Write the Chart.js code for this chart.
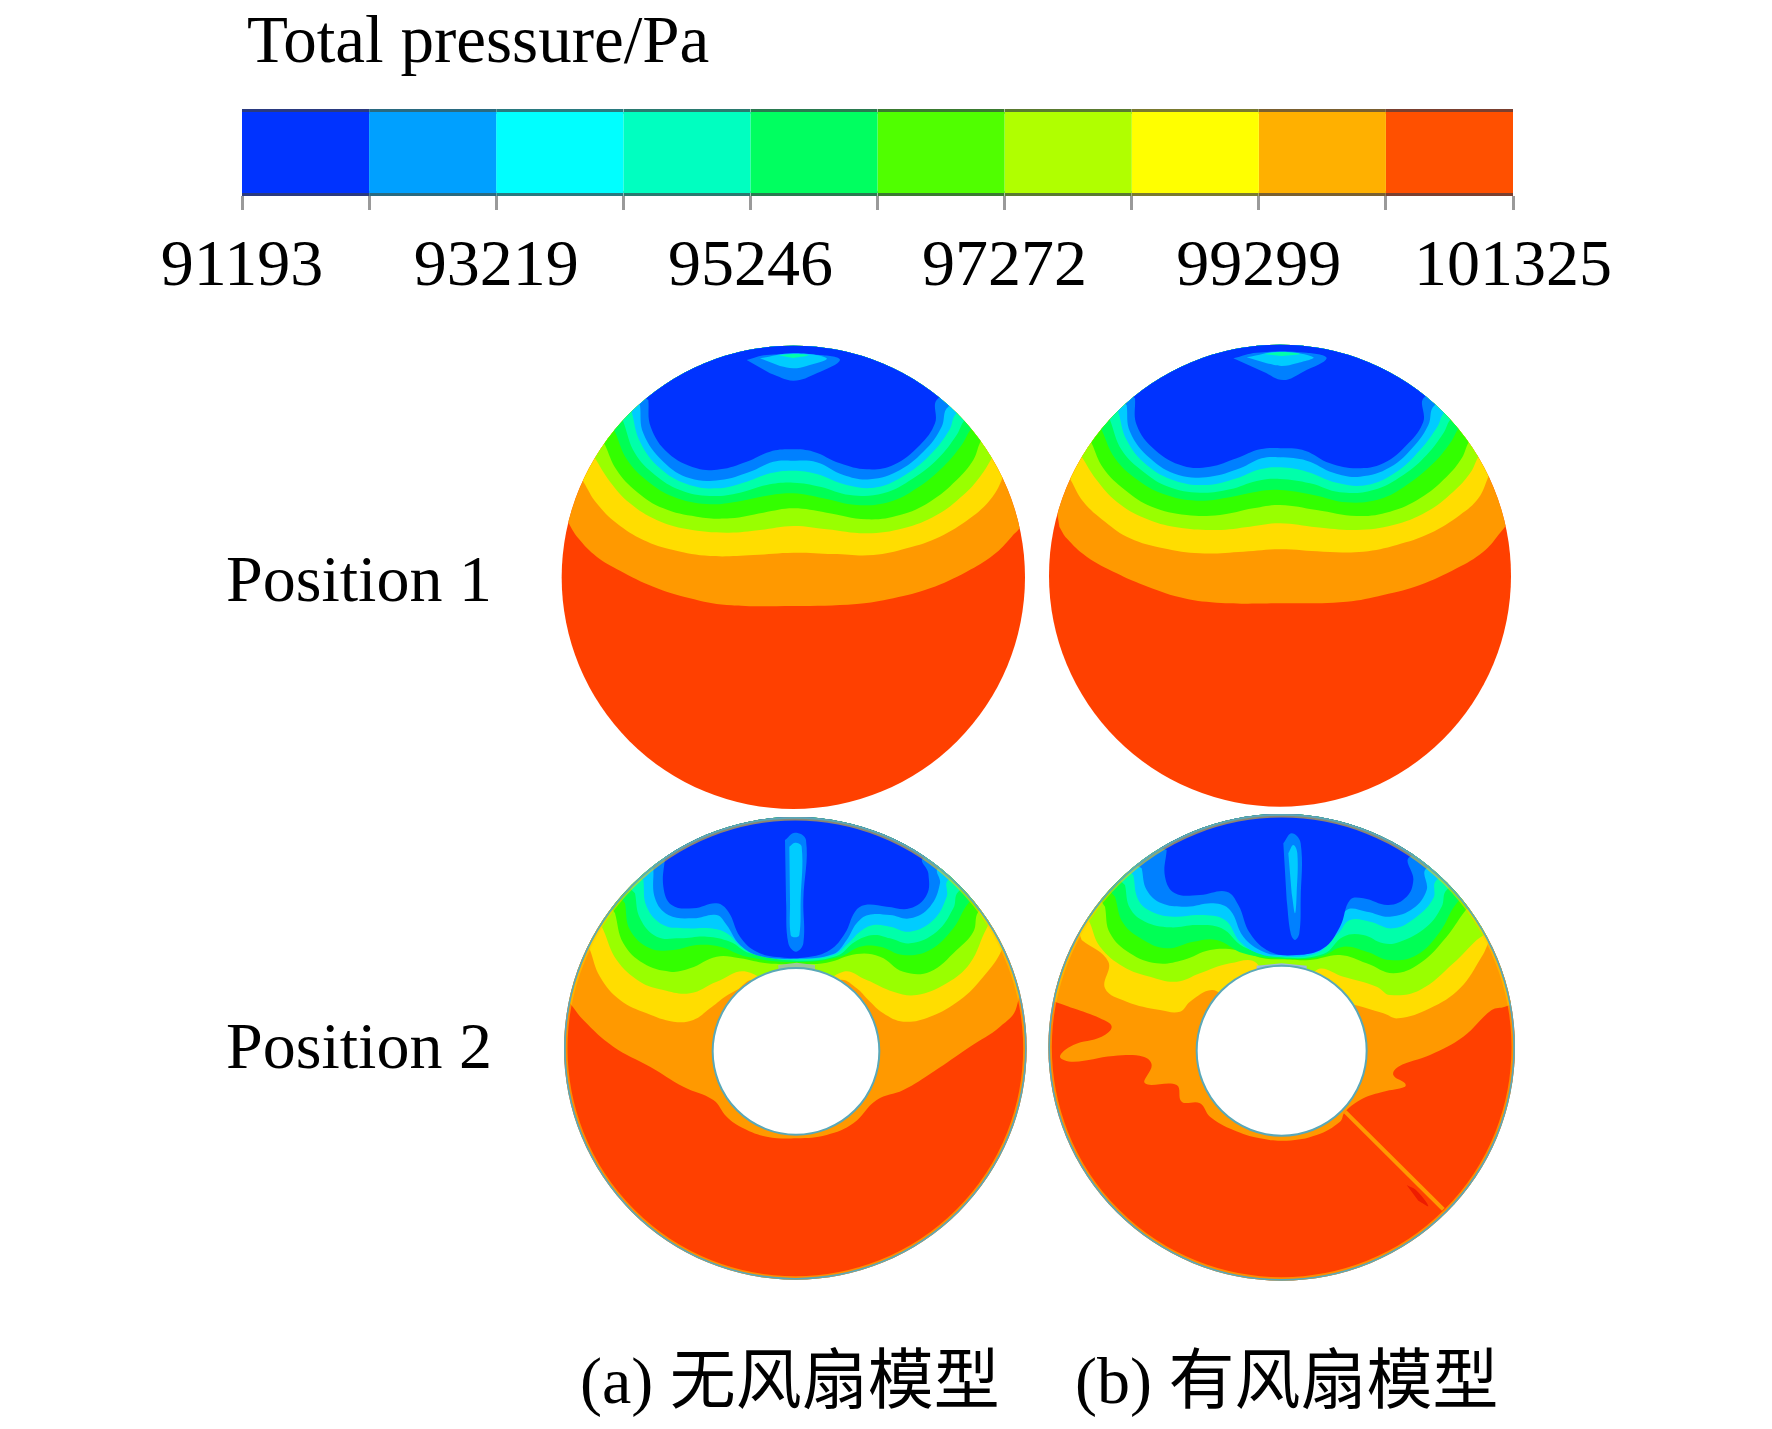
<!DOCTYPE html>
<html>
<head>
<meta charset="utf-8">
<title>Total pressure</title>
<script src="https://cdn.jsdelivr.net/npm/chart.js@4/dist/chart.umd.min.js"></script>
<style>
  html, body { margin: 0; padding: 0; background: #fff; }
  body { position: relative; width: 1772px; height: 1429px; overflow: hidden; }
  .txt { position: absolute; font-family: "Liberation Serif", "Noto Sans CJK SC", serif; font-size: 66px; line-height: 66px; color: #000; white-space: pre; }
  canvas { position: absolute; }
</style>
</head>
<body>
<div class="txt" style="left:247px;top:6px;font-size:67px">Total pressure/Pa</div>
<div class="txt" style="left:226px;top:546px">Position 1</div>
<div class="txt" style="left:226px;top:1013px">Position 2</div>
<div class="txt" style="left:580px;top:1348px">(a) 无风扇模型</div>
<div class="txt" style="left:1075px;top:1348px">(b) 有风扇模型</div>

<canvas id="cBar" width="1672" height="210" style="left:100px;top:90px"></canvas>
<canvas id="p1a" width="520" height="500" style="left:540px;top:330px"></canvas>
<canvas id="p1b" width="520" height="500" style="left:1030px;top:330px"></canvas>
<canvas id="p2a" width="520" height="500" style="left:540px;top:800px"></canvas>
<canvas id="p2b" width="520" height="500" style="left:1030px;top:800px"></canvas>

<script>
// colour bar
const levels = [91193, 92206, 93219, 94233, 95246, 96259, 97272, 98286, 99299, 100312, 101325];
const tickLabels = [91193, 93219, 95246, 97272, 99299, 101325];
const barColors = ['#0033ff', '#00a0ff', '#00ffff', '#00ffc0', '#00ff60', '#50ff00', '#b0ff00', '#ffff00', '#ffb000', '#ff5000'];
const barEdges = ['#2a3a80', '#2a6a80', '#2a7a80', '#2a7a70', '#2a7a50', '#3a7a30', '#5a7a30', '#7a7a30', '#7a6030', '#7a4030'];

// contour lines, lowest band edge first: red/orange ... lightblue/blue.
// Units are the duct section plot units, 3 per reference pixel, y downwards.
const bandColors = ['#ff9900', '#ffdd00', '#99ff00', '#33ff00', '#00ff55', '#00ffaa', '#00ccff', '#0080ff', '#0033ff'];
const baseColor = '#ff4000';

const p1aContours = [
  [[80,570],[115,625],[170,680],[240,722],[340,770],[450,805],[560,825],[760,828],[950,822],[1060,805],[1170,775],[1280,725],[1360,675],[1415,620],[1445,580]],
  [[130,455],[170,520],[230,580],[310,630],[400,660],[510,678],[640,675],[760,668],[880,672],[1000,675],[1100,655],[1200,620],[1290,565],[1350,510],[1385,450]],
  [[165,385],[210,455],[270,520],[350,570],[440,597],[560,608],[660,600],[760,588],[860,598],[980,610],[1090,595],[1190,555],[1270,495],[1320,440],[1355,385]],
  [[195,345],[230,420],[290,485],[370,535],[470,560],[570,565],[670,548],[760,535],[860,548],[980,568],[1080,555],[1170,515],[1250,450],[1300,390],[1325,330]],
  [[225,305],[262,390],[325,455],[400,500],[500,522],[590,515],[680,497],[760,490],[850,505],[950,525],[1050,515],[1130,475],[1210,410],[1265,345],[1295,295]],
  [[250,275],[285,370],[345,435],[420,480],[510,498],[600,488],[680,465],[760,458],[840,470],[930,495],[1030,490],[1120,445],[1195,385],[1250,315],[1275,270]],
  [[275,245],[300,335],[360,415],[440,462],[530,475],[620,455],[690,430],[760,422],[830,432],[920,465],[1010,472],[1100,432],[1175,370],[1228,300],[1250,250]],
  [[300,225],[310,310],[370,395],[450,445],[540,450],[630,425],[700,395],[760,392],[830,397],[910,435],[990,448],[1080,420],[1160,355],[1205,290],[1225,230]],
  [[325,210],[332,290],[385,370],[470,415],[540,418],[620,395],[690,365],[750,358],[820,365],[900,400],[980,418],[1060,405],[1140,345],[1185,280],[1195,205]]
];
const p1aCap = [
  [[620,90],[680,75],[840,75],[900,90],[830,130],[760,152],[690,130]],
  [[660,85],[760,70],[860,85],[800,108],[760,115],[720,108]],
  [[715,76],[760,72],[805,76],[760,84]]
];

const p1bContours = [
  [[88,590],[110,625],[170,680],[260,730],[340,765],[450,802],[560,818],[750,820],[950,815],[1060,795],[1170,765],[1280,715],[1360,665],[1405,615],[1440,560]],
  [[122,450],[160,515],[225,575],[300,625],[400,655],[510,670],[640,665],[750,658],[880,665],[1000,665],[1100,645],[1200,610],[1290,555],[1345,505],[1375,440]],
  [[155,380],[200,450],[260,515],[345,565],[440,592],[560,600],[660,590],[750,580],[860,592],[980,600],[1090,585],[1190,545],[1270,485],[1320,430],[1345,380]],
  [[185,340],[220,415],[285,480],[365,530],[470,555],[570,555],[670,535],[750,525],[860,540],[980,558],[1080,545],[1170,505],[1250,440],[1295,385],[1320,330]],
  [[215,300],[255,385],[320,448],[400,492],[500,512],[590,503],[680,485],[750,480],[850,495],[950,517],[1050,507],[1130,465],[1210,400],[1260,340],[1290,290]],
  [[240,270],[275,360],[340,425],[415,470],[510,488],[600,478],[680,453],[750,447],[840,460],[930,487],[1030,480],[1120,435],[1190,375],[1240,310],[1265,265]],
  [[265,245],[290,330],[350,405],[435,452],[530,465],[620,445],[690,418],[750,412],[830,425],[920,458],[1010,465],[1100,425],[1170,360],[1222,290],[1245,245]],
  [[290,225],[300,305],[360,385],[445,435],[540,440],[630,415],[695,385],[750,382],[830,392],[910,428],[990,440],[1080,412],[1155,345],[1195,285],[1215,225]],
  [[315,205],[320,285],[375,360],[460,408],[540,410],[620,385],[690,358],[760,355],[825,362],[900,400],[980,415],[1060,400],[1135,340],[1180,275],[1185,200]]
];
const p1bCap = [
  [[610,85],[680,68],[830,68],[890,85],[820,125],[760,150],[700,125]],
  [[650,82],[750,65],[850,82],[800,100],[755,108],[710,100]],
  [[700,72],[755,66],[810,72],[755,78]]
];

const p2aContours = [
  [[90,610],[130,660],[220,740],[330,800],[430,860],[520,900],[560,950],[610,985],[680,1010],[770,1015],[860,1005],[940,970],[1010,900],[1090,870],[1180,815],[1290,740],[1380,680],[1430,620]],
  [[150,450],[180,530],[240,600],[320,640],[400,665],[460,660],[510,625],[555,590],[590,570],[640,540],[770,600],[900,540],[950,565],[985,600],[1030,640],[1090,665],[1170,650],[1260,600],[1330,530],[1385,450]],
  [[190,390],[230,480],[300,545],[370,570],[450,580],[530,545],[620,515],[770,600],[910,515],[980,540],[1060,575],[1130,585],[1220,550],[1290,490],[1340,385]],
  [[225,340],[250,430],[310,490],[390,515],[450,505],[530,470],[600,475],[680,490],[770,492],[860,488],[950,462],[1020,470],[1090,515],[1170,515],[1250,450],[1300,395],[1315,335]],
  [[255,310],[270,390],[330,445],[400,450],[470,435],[540,440],[620,470],[770,486],[900,470],[960,440],[1020,440],[1090,465],[1170,450],[1240,385],[1285,310]],
  [[285,280],[300,355],[350,410],[420,415],[500,410],[570,425],[630,460],[770,482],[890,468],[945,425],[1000,405],[1050,415],[1110,430],[1190,395],[1240,325],[1255,275]],
  [[310,240],[320,320],[370,375],[440,385],[510,385],[560,400],[610,445],[670,470],[770,478],[880,465],[925,430],[960,395],[1000,375],[1050,380],[1110,395],[1180,360],[1220,290],[1225,240]],
  [[340,205],[345,295],[385,345],[460,355],[530,345],[560,375],[600,435],[660,468],[770,476],[880,462],[920,420],[950,370],[985,345],[1050,345],[1110,355],[1170,320],[1200,250],[1195,205]],
  [[375,170],[370,260],[395,315],[460,325],[530,310],[565,335],[600,410],[650,455],[720,472],[800,472],[870,450],[915,400],[945,335],[975,315],[1040,320],[1110,325],[1160,285],[1165,220],[1150,175]]
];
const p2aCap = [
  [[735,120],[765,98],[798,120],[790,300],[790,430],[768,455],[745,430],[738,300]],
  [[748,140],[765,128],[785,140],[782,300],[778,405],[765,412],[752,405],[750,300]]
];
const p2aTopPatch = [[715,495],[770,488],[825,495],[825,512],[715,512]];

const p2bContours = [
  [[75,605],[130,625],[210,655],[245,680],[215,710],[130,735],[90,770],[130,785],[250,768],[340,770],[365,795],[345,850],[440,855],[455,905],[510,910],[540,950],[610,990],[690,1015],[770,1022],[860,1005],[930,965],[945,935],[1000,895],[1060,875],[1125,860],[1125,850],[1090,825],[1105,800],[1200,765],[1300,710],[1385,630],[1425,620],[1460,600]],
  [[155,420],[235,485],[225,565],[290,605],[390,630],[450,635],[480,605],[545,570],[600,600],[755,650],[910,600],[975,615],[1060,640],[1105,655],[1200,625],[1290,565],[1355,470],[1370,440]],
  [[180,370],[210,440],[280,500],[360,530],[440,545],[510,520],[600,490],[680,490],[755,650],[860,510],[940,530],[1040,560],[1080,585],[1170,570],[1270,490],[1340,420],[1370,395]],
  [[225,320],[240,400],[300,460],[380,490],[460,480],[540,450],[620,450],[700,475],[755,478],[840,480],[930,465],[1010,490],[1090,520],[1170,490],[1250,410],[1300,340]],
  [[255,290],[280,370],[340,420],[410,445],[490,425],[560,420],[640,460],[755,476],[870,470],[940,440],[1010,455],[1080,480],[1160,465],[1230,395],[1280,310]],
  [[285,255],[300,325],[345,365],[420,382],[500,375],[575,385],[640,440],[755,472],[880,462],[940,410],[1000,405],[1060,430],[1110,425],[1190,380],[1235,320],[1250,270]],
  [[310,225],[325,300],[365,335],[430,350],[510,345],[585,360],[630,425],[690,462],[755,470],[860,460],[925,400],[960,360],[1020,365],[1090,385],[1160,350],[1210,295],[1220,240]],
  [[335,205],[350,270],[395,310],[470,320],[550,310],[600,330],[640,410],[700,455],[755,465],[850,455],[910,395],[950,330],[1010,335],[1080,350],[1150,325],[1190,270],[1190,205]],
  [[410,150],[405,230],[435,280],[510,285],[590,275],[625,315],[660,400],[720,455],[800,465],[880,445],[930,380],[960,300],[1000,295],[1075,315],[1130,290],[1150,240],[1140,170]]
];
const p2bCap = [
  [[760,130],[785,100],[812,130],[812,300],[808,400],[795,420],[782,400],[770,300]],
  [[775,160],[790,135],[802,160],[800,280],[795,340],[785,280]]
];
const p2bTopPatch = [[680,497],[755,490],[830,497],[830,512],[680,512]];
const p2bStreak = [[945,935],[1240,1228]];
const p2bSpot = [[1130,1155],[1160,1172],[1195,1218],[1165,1202]];

// ---- colour bar chart
new Chart('cBar', {
  type: 'bar',
  data: {
    labels: ['p'],
    datasets: barColors.map((c, i) => ({
      data: [[levels[i], levels[i + 1]]],
      backgroundColor: c, borderColor: barEdges[i],
      borderWidth: { top: 4, bottom: 4, left: 0, right: 0 }, borderSkipped: false,
      inflateAmount: 1, barPercentage: 1, categoryPercentage: 1, grouped: false
    }))
  },
  options: {
    indexAxis: 'y', responsive: false, animation: false,
    layout: { padding: { left: 142, right: 259, top: 19, bottom: 0 } },
    plugins: { legend: { display: false }, tooltip: { enabled: false } },
    scales: {
      y: { display: false },
      x: {
        min: levels[0], max: levels[10],
        afterBuildTicks: s => { s.ticks = levels.map(v => ({ value: v })); },
        // labels may hang over the bar ends, the canvas has room for them
        afterFit: s => { s.height = 104; s.paddingLeft = 0; s.paddingRight = 0; },
        border: { display: false },
        grid: { drawOnChartArea: false, drawTicks: true, tickLength: 14, tickWidth: 3, tickColor: '#9a9a9a' },
        ticks: {
          autoSkip: false, maxRotation: 0, padding: 18, color: '#000',
          font: { family: "'Liberation Serif'", size: 66 },
          callback: v => tickLabels.includes(v) ? String(v) : ''
        }
      }
    }
  }
});

// ---- duct sections: clip to the disk, hole and rim go on top
const ductPlugin = {
  id: 'duct',
  beforeDatasetsDraw(chart, args, o) {
    const { ctx, scales: { x, y } } = chart;
    ctx.save();
    ctx.beginPath();
    ctx.arc(x.getPixelForValue(o.cx), y.getPixelForValue(o.cy), x.getPixelForValue(o.r) - x.getPixelForValue(0), 0, Math.PI * 2);
    ctx.clip();
  },
  afterDatasetsDraw(chart, args, o) {
    const { ctx, scales: { x, y } } = chart;
    const size = v => x.getPixelForValue(v) - x.getPixelForValue(0);
    if (o.rim) {
      ctx.beginPath();
      ctx.arc(x.getPixelForValue(o.cx), y.getPixelForValue(o.cy), size(o.r), 0, Math.PI * 2);
      ctx.strokeStyle = 'rgba(255,200,0,0.55)'; ctx.lineWidth = 7; ctx.stroke();
      ctx.strokeStyle = o.rim; ctx.lineWidth = 3.5; ctx.stroke();
    }
    if (o.hole) {
      ctx.beginPath();
      ctx.arc(x.getPixelForValue(o.hole[0]), y.getPixelForValue(o.hole[1]), size(o.hole[2]), 0, Math.PI * 2);
      ctx.fillStyle = '#fff'; ctx.fill();
      ctx.strokeStyle = o.rim; ctx.lineWidth = 2; ctx.stroke();
    }
    ctx.restore();
  }
};

const toPts = a => a.map(([x, y]) => ({ x, y }));
// region on the low pressure side of a contour, closed round the top of the plot
const aboveContour = c => toPts([...c, [1560, 0], [0, 0]]);
const shape = (pts, color, tension) => ({ data: pts, backgroundColor: color, borderWidth: 0, pointRadius: 0, showLine: true, fill: 'shape', tension });

function drawSection(id, contours, caps, duct, extras) {
  const sets = [shape(toPts([[0, 0], [1560, 0], [1560, 1500], [0, 1500]]), baseColor, 0)];
  contours.forEach((c, i) => sets.push(shape(aboveContour(c), bandColors[i], 0.4)));
  caps.forEach((c, i) => sets.push(shape(toPts(c), bandColors[bandColors.length - 2 - i], 0.4)));
  (extras || []).forEach(e => sets.push(e));
  sets.forEach((s, i) => { s.order = sets.length - i; });
  new Chart(id, {
    type: 'scatter',
    data: { datasets: sets },
    plugins: [ductPlugin],
    options: {
      responsive: false, animation: false,
      layout: { padding: 0 },
      plugins: { legend: { display: false }, tooltip: { enabled: false }, duct },
      scales: {
        x: { display: false, min: 0, max: 1560 },
        y: { display: false, min: 0, max: 1500, reverse: true }
      }
    }
  });
}

drawSection('p1a', p1aContours, p1aCap, { cx: 760, cy: 742, r: 695 });
drawSection('p1b', p1bContours, p1bCap, { cx: 750, cy: 737, r: 693 });
drawSection('p2a', p2aContours, p2aCap, { cx: 766, cy: 745, r: 694, rim: '#5aa8b8', hole: [768, 754, 250] }, [
  shape(toPts(p2aTopPatch), '#9ec79a', 0)
]);
drawSection('p2b', p2bContours, p2bCap, { cx: 755, cy: 742, r: 700, rim: '#5aa8b8', hole: [755, 752, 255] }, [
  shape(toPts(p2bTopPatch), '#9dbbdc', 0),
  { data: toPts(p2bStreak), borderColor: '#ff9900', borderWidth: 4, pointRadius: 0, showLine: true, fill: false },
  shape(toPts(p2bSpot), '#ee1c00', 0.4)
]);
</script>
</body>
</html>
